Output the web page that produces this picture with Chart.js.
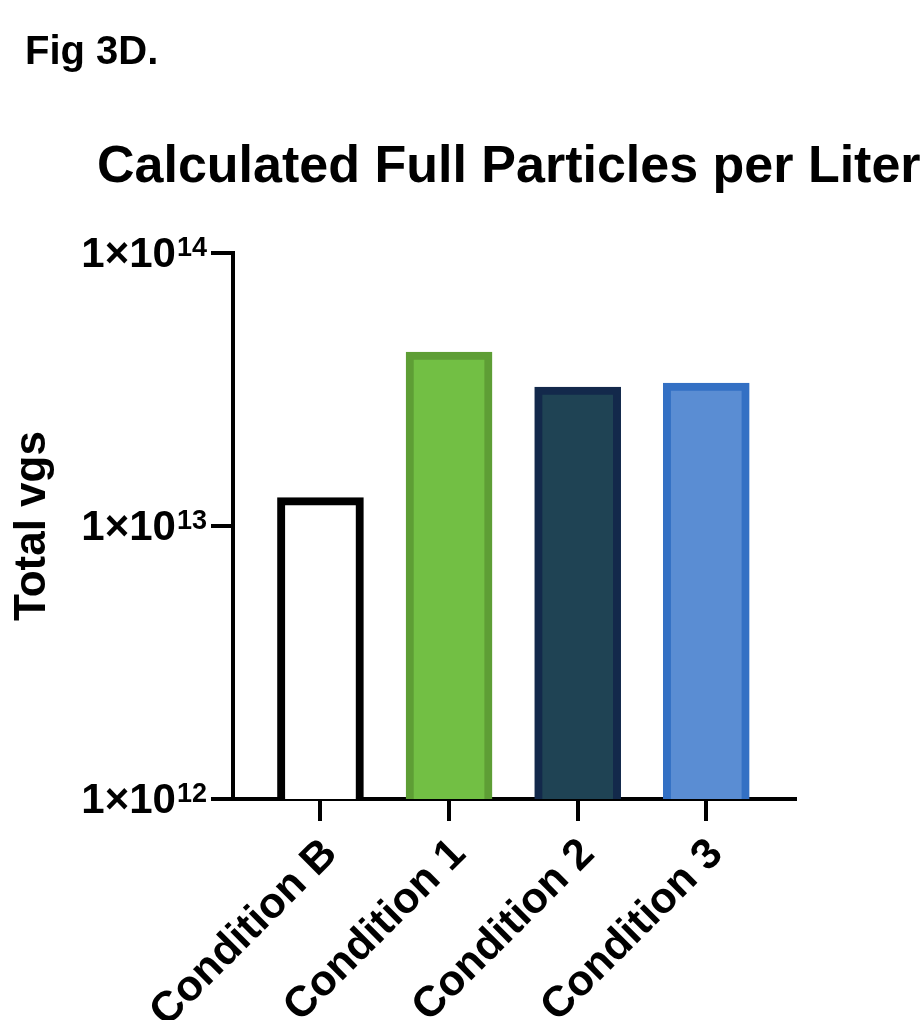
<!DOCTYPE html>
<html>
<head>
<meta charset="utf-8">
<script src="https://cdn.jsdelivr.net/npm/chart.js@4"></script>
<style>
  body { margin: 0; background: #fff; }
  canvas { display: block; }
</style>
</head>
<body>
<canvas id="fig3d" width="924" height="1020"></canvas>
<script>
const figLabel = 'Fig 3D.';
const chartTitle = 'Calculated Full Particles per Liter';
const yTitle = 'Total vgs';
const categories = ['Condition B', 'Condition 1', 'Condition 2', 'Condition 3'];
const totalVgs = [1.27e13, 4.34e13, 3.23e13, 3.34e13];
const yTicks = [1e12, 1e13, 1e14];
const fillColors = ['#ffffff', '#72bf44', '#1f4354', '#5a8dd3'];
const borderColors = ['#000000', '#5e9e35', '#13294b', '#3370c4'];

const FONT = '"Liberation Sans", Arial, sans-serif';

// titles and the 1x10^n tick labels, drawn on top of the chart
const textPlugin = {
    id: 'textPlugin',
    afterDraw(chart) {
        const ctx = chart.ctx;
        ctx.save();
        ctx.fillStyle = '#000';
        ctx.textBaseline = 'alphabetic';
        ctx.textAlign = 'left';
        ctx.font = 'bold 40px ' + FONT;
        ctx.fillText(figLabel, 25, 64);
        ctx.font = 'bold 52px ' + FONT;
        ctx.fillText(chartTitle, 97, 182);

        const y = chart.scales.y;
        const right = y.right - 26;
        ctx.textAlign = 'right';
        y.ticks.forEach(t => {
            const py = y.getPixelForValue(t.value);
            const exp = String(Math.round(Math.log10(t.value)));
            ctx.font = 'bold 27px ' + FONT;
            const ew = ctx.measureText(exp).width;
            ctx.fillText(exp, right, py + 3);
            ctx.font = 'bold 42px ' + FONT;
            ctx.fillText('1\u00d710', right - ew - 1, py + 14);
        });
        ctx.restore();
    }
};

const ctx = document.getElementById('fig3d').getContext('2d');
new Chart(ctx, {
    type: 'bar',
    data: {
        datasets: [{
            data: totalVgs.map((v, i) => ({ x: i, y: v })),
            backgroundColor: fillColors,
            borderColor: borderColors,
            borderWidth: 8,
            barThickness: 86
        }]
    },
    options: {
        responsive: false,
        animation: false,
        layout: { padding: { top: 253, left: 4, right: 129, bottom: 0 } },
        plugins: {
            legend: { display: false },
            tooltip: { enabled: false }
        },
        scales: {
            x: {
                type: 'linear',
                offset: false,
                min: -0.68,
                max: 3.69,
                afterBuildTicks: scale => {
                    scale.ticks = categories.map((c, i) => ({ value: i }));
                },
                afterFit: scale => { scale.height = 221; },
                grid: {
                    offset: false,
                    drawOnChartArea: false,
                    drawTicks: true,
                    tickLength: 22,
                    lineWidth: 4,
                    color: '#000'
                },
                border: { display: true, width: 4, color: '#000' },
                ticks: {
                    minRotation: 45,
                    maxRotation: 45,
                    padding: 8,
                    labelOffset: 10,
                    color: '#000',
                    font: { family: FONT, size: 43, weight: 'bold' },
                    callback: v => categories[v]
                }
            },
            y: {
                type: 'logarithmic',
                min: 1e12,
                max: 1e14,
                afterBuildTicks: scale => {
                    scale.ticks = yTicks.map(v => ({ value: v }));
                },
                afterFit: scale => { scale.width = 229; },
                grid: {
                    drawOnChartArea: false,
                    drawTicks: true,
                    tickLength: 22,
                    lineWidth: 4,
                    color: '#000'
                },
                border: { display: true, width: 4, color: '#000' },
                ticks: { display: false },
                title: {
                    display: true,
                    text: yTitle,
                    color: '#000',
                    padding: { top: 2, bottom: 0 },
                    font: { family: FONT, size: 44, weight: 'bold' }
                }
            }
        }
    },
    plugins: [textPlugin]
});
</script>
</body>
</html>
